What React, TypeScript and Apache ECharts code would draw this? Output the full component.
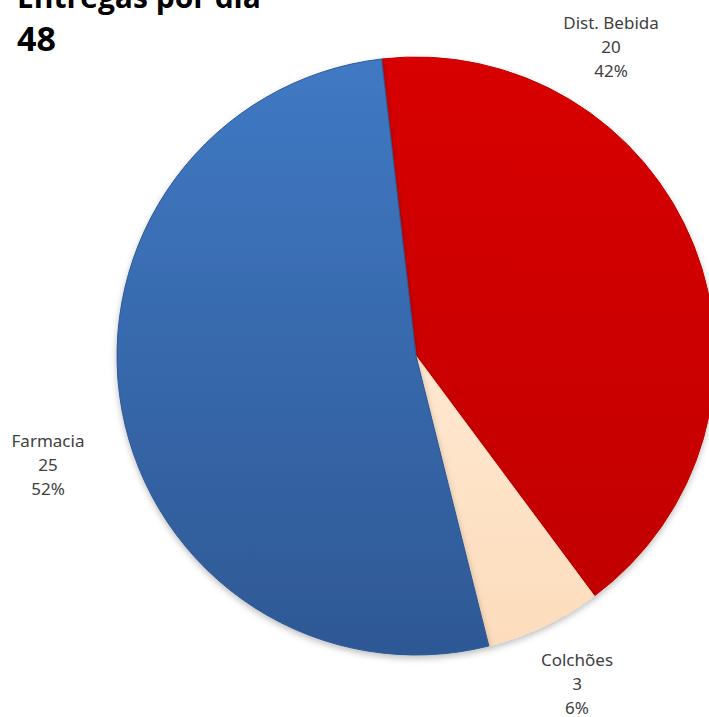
import React, { useEffect, useRef } from "react";
import * as echarts from "echarts";

const categories = ["Dist. Bebida", "Colchões", "Farmacia"];
const values = [20, 3, 25];
const titleText = "Entregas por dia";
const totalText = "48";

const gradients = [
  ["#d80000", "#c20000"],
  ["#ffe8d0", "#fcdcbc"],
  ["#4079c4", "#2e5894"],
];
const labelPos = [
  [611, 46],
  [577, 683],
  [48, 464],
];

export default function App() {
  const ref = useRef<HTMLDivElement>(null);
  useEffect(() => {
    const chart = echarts.init(ref.current!, null, { renderer: "svg" });
    const total = values.reduce((a, b) => a + b, 0);
    chart.setOption({
      animation: false,
      backgroundColor: "#ffffff",
      graphic: [
        {
          type: "text",
          x: 17,
          y: -4,
          style: {
            text: titleText,
            font: "bold 30px 'Open Sans'",
            fill: "#000000",
            verticalAlign: "middle",
          },
        },
        {
          type: "text",
          x: 17,
          y: 38,
          style: {
            text: totalText,
            font: "bold 34px 'Open Sans'",
            fill: "#000000",
            verticalAlign: "middle",
          },
        },
      ],
      series: [
        {
          type: "pie",
          center: [416, 356],
          radius: 299,
          startAngle: 96.6,
          clockwise: true,
          label: {
            show: true,
            position: "inside",
            formatter: (p: any) =>
              `${p.name}\n${p.value}\n${Math.round((p.value / total) * 100)}%`,
            fontFamily: "'Noto Sans'",
            fontSize: 17,
            lineHeight: 24,
            color: "#404040",
            align: "center",
            overflow: "none",
          },
          labelLine: { show: false },
          labelLayout: (params: any) => ({
            x: labelPos[params.dataIndex][0],
            y: labelPos[params.dataIndex][1],
            align: "center",
            verticalAlign: "middle",
            hideOverlap: false,
          }),
          itemStyle: {
            shadowBlur: 6,
            shadowOffsetY: 3,
            shadowColor: "rgba(0,0,0,0.25)",
          },
          data: categories.map((name, i) => ({
            name,
            value: values[i],
            itemStyle: {
              color: new echarts.graphic.LinearGradient(0, 0, 0, 1, [
                { offset: 0, color: gradients[i][0] },
                { offset: 1, color: gradients[i][1] },
              ]),
              borderColor: gradients[i][1],
              borderWidth: 1,
            },
          })),
        },
      ],
    });
    return () => chart.dispose();
  }, []);
  return (
    <div
      ref={ref}
      style={{ position: "absolute", left: 0, top: 0, width: 709, height: 717 }}
    />
  );
}
